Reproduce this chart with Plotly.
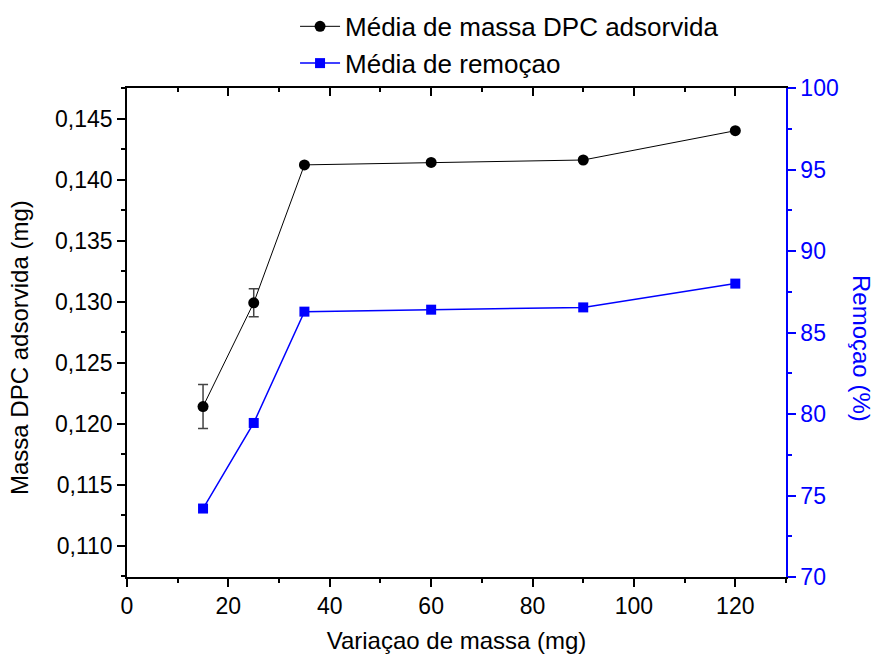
import plotly.graph_objects as go

# Data
massa = [15, 25, 35, 60, 90, 120]
media_massa = [0.1214, 0.1299, 0.1412, 0.1414, 0.1416, 0.1440]
erro_massa = [0.0018, 0.00114, 0, 0, 0, 0]
media_remocao = [74.2, 79.45, 86.28, 86.4, 86.54, 88.0]

FONT = "Liberation Sans, Arial, sans-serif"
BLUE = "#0000FF"

fig = go.Figure()

fig.add_trace(go.Scatter(
    x=massa, y=media_massa, mode="lines+markers",
    name="Média de massa DPC adsorvida",
    line=dict(color="black", width=1),
    marker=dict(symbol="circle", size=11, color="black"),
    error_y=dict(type="data", array=erro_massa, visible=True,
                 color="#444444", thickness=1.5, width=5),
    xaxis="x", yaxis="y",
))

fig.add_trace(go.Scatter(
    x=massa, y=media_remocao, mode="lines+markers",
    name="Média de remoçao",
    line=dict(color=BLUE, width=1.5),
    marker=dict(symbol="square", size=10, color=BLUE),
    xaxis="x", yaxis="y2",
))

# dummy trace to activate top axis
fig.add_trace(go.Scatter(x=[None], y=[None], xaxis="x2", yaxis="y",
                         showlegend=False, hoverinfo="skip"))

fig.update_layout(
    width=877, height=657,
    margin=dict(l=127, r=91, t=88, b=80, autoexpand=False),
    paper_bgcolor="white", plot_bgcolor="white",
    separators=", ",
    font=dict(family=FONT, size=23, color="black"),
    showlegend=True,
    legend=dict(x=0.255, y=1.174, xanchor="left", yanchor="top",
                font=dict(family=FONT, size=26, color="black"),
                bgcolor="rgba(0,0,0,0)", itemwidth=40),
    xaxis=dict(
        range=[0, 130], dtick=20, tick0=0, automargin=False,
        showgrid=False, zeroline=False,
        showline=True, linecolor="black", linewidth=1.5,
        ticks="outside", ticklen=8, tickwidth=1.5, tickcolor="black",
        minor=dict(dtick=10, ticks="outside", ticklen=4, tickwidth=1.5, tickcolor="black"),
        tickfont=dict(size=23),
        title=dict(text="Variaçao de massa (mg)", font=dict(size=24), standoff=14),
    ),
    xaxis2=dict(
        range=[0, 130], dtick=20, tick0=0, overlaying="x", side="top", automargin=False,
        showgrid=False, zeroline=False, showticklabels=False,
        showline=True, linecolor="black", linewidth=1.5,
        ticks="inside", ticklen=8, tickwidth=1.5, tickcolor="black",
        minor=dict(dtick=10, ticks="inside", ticklen=4, tickwidth=1.5, tickcolor="black"),
    ),
    yaxis=dict(
        range=[0.10743, 0.1475], dtick=0.005, tick0=0.11, tickformat=".3f", automargin=False,
        showgrid=False, zeroline=False,
        showline=True, linecolor="black", linewidth=1.5,
        ticks="outside", ticklen=8, tickwidth=1.5, tickcolor="black",
        minor=dict(dtick=0.0025, ticks="outside", ticklen=4, tickwidth=1.5, tickcolor="black"),
        tickfont=dict(size=23),
    ),
    yaxis2=dict(
        range=[70, 100], dtick=5, tick0=70, overlaying="y", side="right", automargin=False,
        showgrid=False, zeroline=False,
        showline=True, linecolor=BLUE, linewidth=1.5,
        ticks="outside", ticklen=8, tickwidth=1.5, tickcolor=BLUE,
        minor=dict(dtick=2.5, ticks="outside", ticklen=4, tickwidth=1.5, tickcolor=BLUE),
        tickfont=dict(size=23, color=BLUE),
    ),
    annotations=[
        dict(text="Massa DPC adsorvida (mg)", x=19, y=348, xref="paper", yref="paper",
             xanchor="center", yanchor="middle",
             showarrow=False, textangle=-90, font=dict(size=24, color="black")),
        dict(text="Remoçao (%)", x=862, y=348, xref="paper", yref="paper",
             xanchor="center", yanchor="middle",
             showarrow=False, textangle=90, font=dict(size=24, color=BLUE)),
    ],
)

# convert annotation pixel positions to paper coordinates
pw = 877 - 127 - 91
ph = 657 - 88 - 80
for a in fig.layout.annotations:
    a.x = (a.x - 127) / pw
    a.y = (657 - 80 - a.y) / ph
fig.write_html("out.html")
